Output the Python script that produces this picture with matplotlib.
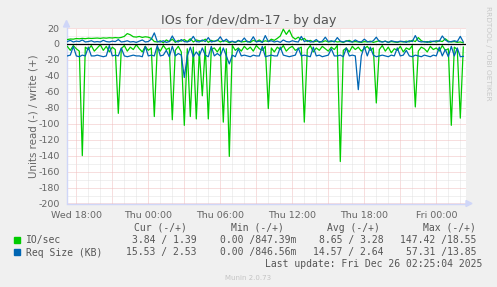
import pandas as pd
import matplotlib
matplotlib.use("Agg")
import matplotlib.pyplot as plt
import matplotlib.dates as mdates
from matplotlib.patches import Rectangle, Polygon

# ==========================================
# DATA  (15 minute samples, Wed 17:15 -> Fri 02:15)
# ==========================================

start = "2025-12-24 17:15"

# IO/sec, read (drawn negative)
io_read = [
    3, 8, 2, 6, 9, 140, 4, 7, 2, 9,
    5, 1, 8, 3, 10, 4, 7, 87, 6, 2,
    9, 4, 7, 1, 6, 10, 3, 8, 5, 91,
    4, 9, 2, 7, 5, 95, 8, 3, 10, 102,
    6, 91, 4, 94, 9, 65, 3, 94, 7, 5,
    10, 4, 98, 6, 141, 2, 8, 5, 9, 3,
    7, 4, 9, 2, 6, 8, 3, 81, 5, 10,
    4, 7, 2, 9, 5, 3, 8, 6, 4, 98,
    7, 2, 10, 5, 8, 3, 6, 9, 4, 7,
    2, 147.4, 8, 5, 10, 3, 7, 4, 9, 6,
    3, 8, 5, 74, 7, 2, 9, 4, 11, 6,
    8, 3, 10, 5, 7, 2, 79, 9, 4, 6,
    10, 3, 7, 5, 9, 2, 8, 6, 102, 4,
    7, 93, 3.84,
]

# IO/sec, write
io_write = [
    5.5, 6.2, 6.0, 6.8, 6.5, 7.0, 6.6, 7.2, 6.9, 7.1,
    7.4, 7.0, 7.6, 7.3, 7.8, 7.5, 8.0, 7.6, 8.2, 9.5,
    13.0, 11.5, 9.0, 8.6, 9.4, 8.2, 9.0, 8.5, 7.0, 3.0,
    2.5, 4.0, 1.5, 5.0, 3.0, 6.0, 2.0, 4.5, 3.5, 5.5,
    3.0, 6.5, 2.5, 5.0, 4.0, 3.5, 6.0, 2.0, 4.5, 3.0,
    5.0, 2.5, 4.0, 3.5, 1.5, 3.0, 2.0, 4.0, 2.5, 3.0,
    3.5, 2.0, 4.5, 3.0, 5.0, 2.5, 4.0, 3.0, 6.0, 4.5,
    7.0, 10.0, 18.5, 12.0, 17.5, 9.0, 6.0, 8.5, 5.0, 7.0,
    3.0, 4.5, 2.5, 3.5, 3.0, 2.5, 4.0, 2.5, 3.0, 3.5,
    2.5, 3.0, 2.0, 3.5, 4.5, 2.5, 3.0, 2.5, 2.0, 3.0,
    2.5, 3.5, 2.0, 3.0, 4.0, 2.5, 3.5, 2.0, 3.0, 2.5,
    2.0, 3.0, 2.5, 3.5, 2.5, 4.5, 3.0, 8.0, 4.0, 2.5,
    3.0, 2.0, 3.5, 2.5, 4.0, 3.0, 6.5, 3.5, 2.5, 3.0,
    2.0, 2.5, 1.39,
]

# Req Size (KB), read (drawn negative)
rs_read = [
    15, 14, 3, 15, 16, 14, 15, 4, 15, 15,
    14, 15, 16, 15, 2, 15, 14, 15, 5, 15,
    16, 15, 14, 15, 15, 16, 3, 15, 14, 15,
    2, 15, 14, 8, 16, 3, 15, 12, 14, 42,
    15, 4, 16, 10, 15, 5, 14, 16, 3, 15,
    12, 15, 5, 15, 25, 14, 16, 6, 15, 14,
    15, 16, 14, 15, 15, 3, 16, 15, 14, 15,
    15, 4, 14, 15, 16, 15, 14, 5, 15, 14,
    15, 16, 4, 15, 14, 16, 15, 14, 6, 15,
    15, 14, 16, 5, 15, 14, 15, 57.3, 15, 3,
    15, 4, 14, 16, 15, 14, 15, 16, 14, 15,
    5, 15, 14, 8, 15, 16, 14, 15, 16, 14,
    15, 16, 14, 15, 4, 15, 7, 16, 3, 15,
    5, 16, 15.53,
]

# Req Size (KB), write
rs_write = [
    3.0, 4.5, 2.5, 3.5, 3.0, 5.0, 2.5, 3.0, 4.0, 2.5,
    3.0, 2.5, 4.5, 3.0, 2.5, 3.5, 3.0, 5.5, 2.5, 3.0,
    4.0, 2.5, 3.0, 2.0, 3.5, 5.0, 2.5, 3.0, 6.0, 13.85,
    3.0, 2.5, 4.0, 2.0, 3.0, 10.0, 3.5, 2.5, 5.5, 3.0,
    2.5, 4.0, 9.5, 3.0, 2.5, 5.0, 3.0, 8.0, 2.5, 3.5,
    4.0, 9.0, 3.0, 6.0, 2.5, 3.5, 2.0, 4.5, 3.0, 7.5,
    2.5, 3.0, 9.0, 2.5, 3.5, 2.0, 10.5, 3.0, 4.0, 2.5,
    3.5, 2.0, 5.0, 3.0, 2.5, 4.0, 3.0, 2.5, 9.5, 3.0,
    4.5, 2.5, 3.0, 5.5, 2.0, 3.5, 8.5, 3.0, 4.0, 2.5,
    8.0, 3.5, 2.5, 4.0, 3.0, 2.5, 5.0, 3.0, 2.5, 6.0,
    3.0, 2.5, 4.0, 8.5, 3.0, 2.5, 3.5, 2.0, 4.0, 3.0,
    2.5, 3.5, 3.0, 2.0, 4.0, 3.0, 10.5, 3.5, 2.5, 3.0,
    2.0, 3.5, 3.0, 4.0, 3.5, 10.0, 5.0, 2.5, 3.0, 4.0,
    3.0, 9.5, 2.53,
]

legend_rows = [
    ("IO/sec", "3.84 / 1.39", "0.00 /847.39m", "8.65 / 3.28", "147.42 /18.55"),
    ("Req Size (KB)", "15.53 / 2.53", "0.00 /846.56m", "14.57 / 2.64", "57.31 /13.85"),
]

times = pd.date_range(start, periods=len(io_read), freq="15min")
df = pd.DataFrame({
    "io_read": io_read,
    "io_write": io_write,
    "rs_read": rs_read,
    "rs_write": rs_write,
}, index=times)

# ==========================================
# STYLE
# ==========================================

W, H = 497, 287
BG = "#F0F0F0"
FONT = "#666666"
AXIS = "#CFD6F8"
GREEN = "#00CC00"
BLUE = "#0066B3"

fig = plt.figure(figsize=(W / 100, H / 100), dpi=100)
fig.patch.set_facecolor(BG)

def fx(px):
    return px / W

def fy(py):
    return 1 - py / H

ax = fig.add_axes([fx(66.5), fy(203.5), fx(466) - fx(66.5), fy(28) - fy(203.5)])
ax.set_facecolor("white")

# ==========================================
# LINES
# ==========================================

lw = 0.9
ax.plot(df.index, -df["io_read"], color=GREEN, lw=lw, zorder=3)
ax.plot(df.index, df["io_write"], color=GREEN, lw=lw, zorder=3)
ax.plot(df.index, -df["rs_read"], color=BLUE, lw=lw, zorder=4)
ax.plot(df.index, df["rs_write"], color=BLUE, lw=lw, zorder=4)
ax.axhline(0, color="black", lw=0.9, zorder=5)

# ==========================================
# AXES / GRID
# ==========================================

t18 = pd.Timestamp("2025-12-24 18:00")
ax.set_xlim(t18 - pd.Timedelta(hours=0.817), t18 + pd.Timedelta(hours=32.475))
ax.set_ylim(-200, 20)

ax.xaxis.set_major_locator(mdates.HourLocator(byhour=range(0, 24, 3)))
ax.xaxis.set_minor_locator(mdates.HourLocator())

def xfmt(v, pos):
    d = mdates.num2date(v)
    if d.hour % 6 == 0:
        return d.strftime("%a %H:%M")
    return ""

ax.xaxis.set_major_formatter(plt.FuncFormatter(xfmt))

yticks = list(range(-200, 21, 20))
ax.set_yticks(yticks)
ax.set_yticklabels([str(v) for v in yticks])
ax.set_yticks(list(range(-190, 20, 20)), minor=True)

ax.grid(which="minor", color="#E2E2E2", lw=0.72, linestyle=(0, (1, 1)))
ax.grid(which="major", color="#F0BEBE", lw=0.72, linestyle=(0, (1, 1)))
ax.set_axisbelow(True)

ax.tick_params(which="both", length=0, colors=FONT, labelsize=6.8)
ax.tick_params(axis="y", pad=5)
ax.tick_params(axis="x", pad=5.5)

for s in ["top", "right"]:
    ax.spines[s].set_visible(False)
for s in ["left", "bottom"]:
    ax.spines[s].set_color(AXIS)
    ax.spines[s].set_linewidth(1)

# axis arrows
fig.patches.append(Polygon(
    [(fx(63.5), fy(27)), (fx(69.5), fy(27)), (fx(66.5), fy(20.5))],
    closed=True, color=AXIS, transform=fig.transFigure))
fig.patches.append(Polygon(
    [(fx(466), fy(200.5)), (fx(466), fy(206.5)), (fx(472), fy(203.5))],
    closed=True, color=AXIS, transform=fig.transFigure))

# ==========================================
# TEXTS
# ==========================================

fig.text(fx(248.5), fy(24), "IOs for /dev/dm-17 - by day",
         ha="center", va="baseline", fontsize=9.2, color="#555555")

fig.text(fx(33), fy(116), "Units read (-) / write (+)", rotation=90,
         ha="center", va="center", fontsize=7.4, color=FONT)

fig.text(fx(488), fy(53.5), "RRDTOOL / TOBI OETIKER", rotation=270,
         ha="center", va="center", fontsize=5.3, color="#C8C8C8")

mono = dict(family="DejaVu Sans Mono", fontsize=7.05, color="#555555",
            va="baseline")

header_y = 231
for txt, right in [("Cur (-/+)", 187.3), ("Min (-/+)", 284),
                   ("Avg (-/+)", 380), ("Max (-/+)", 476)]:
    fig.text(fx(right), fy(header_y), txt, ha="right", **mono)

row_y = [243.5, 255.5]
swatch = [GREEN, BLUE]
for (name, cur, mn, avg, mx), y, c in zip(legend_rows, row_y, swatch):
    fig.patches.append(Rectangle((fx(14), fy(y - 0.5)), fx(6), fy(0) - fy(6),
                                 color=c, transform=fig.transFigure))
    fig.text(fx(26), fy(y), name, ha="left", **mono)
    fig.text(fx(196.7), fy(y), cur, ha="right", **mono)
    fig.text(fx(296.7), fy(y), mn, ha="right", **mono)
    fig.text(fx(383.3), fy(y), avg, ha="right", **mono)
    fig.text(fx(476.7), fy(y), mx, ha="right", **mono)

fig.text(fx(482.7), fy(267), "Last update: Fri Dec 26 02:25:04 2025",
         ha="right", **mono)

fig.text(fx(248), fy(279.5), "Munin 2.0.73", ha="center", va="baseline",
         fontsize=5.0, color="#C4C4C4")

fig.savefig("out.png", dpi=100, facecolor=BG)
